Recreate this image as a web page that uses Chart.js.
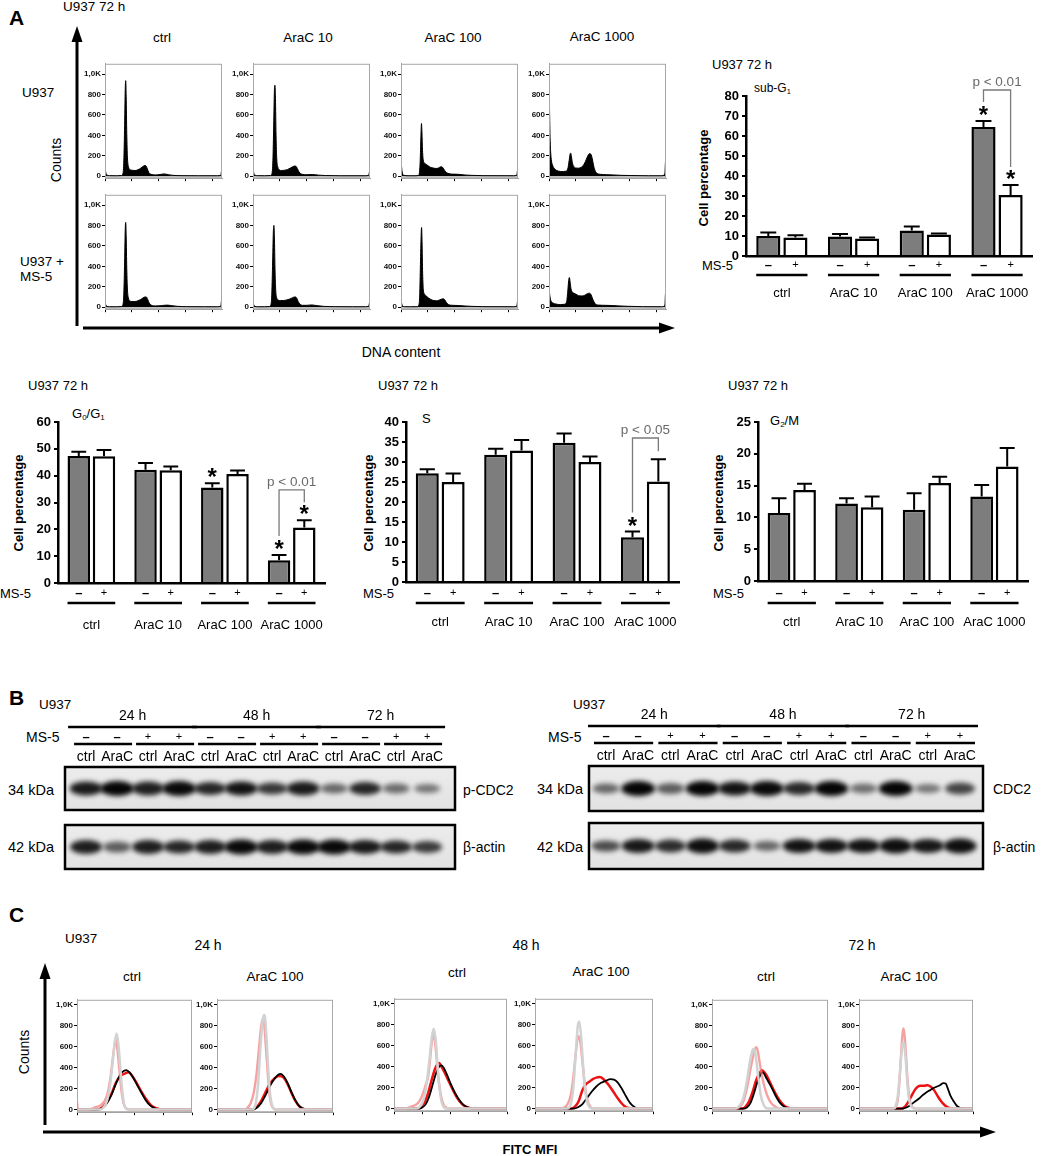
<!DOCTYPE html>
<html><head><meta charset="utf-8">
<script src="https://cdn.jsdelivr.net/npm/chart.js@4.4.1/dist/chart.umd.min.js"></script>
<style>
html,body{margin:0;padding:0;background:#fff;}
#fig{position:relative;width:1052px;height:1156px;overflow:hidden;background:#fff;font-family:"Liberation Sans",Arial,Helvetica,sans-serif;color:#000;}
#fig canvas{position:absolute;}
#fig svg{position:absolute;left:0;top:0;}
.t{position:absolute;white-space:nowrap;line-height:1;}
.t sub{font-size:0.62em;vertical-align:-0.28em;line-height:0;}
</style></head>
<body><div id="fig">
<svg width="1052" height="1156">
 <g stroke="#000" stroke-width="3"><line x1="77" y1="40" x2="77" y2="326"/><line x1="83" y1="328" x2="662" y2="328"/>
 <line x1="45" y1="977" x2="45" y2="1125"/><line x1="43" y1="1132" x2="982" y2="1132"/></g>
 <g fill="#000"><polygon points="77,26 71.5,42 82.5,42"/><polygon points="675,328 659,322.5 659,333.5"/>
 <polygon points="45,963 39.5,979 50.5,979"/><polygon points="996,1132 980,1126.5 980,1137.5"/></g>
</svg>
</div>
<script>
// ---------------- DATA ----------------
const groups = ['ctrl', 'AraC 10', 'AraC 100', 'AraC 1000'];
// sub-G1
const subG1NoMS5 = [10, 9.7, 12.7, 64.5];
const subG1NoMS5Err = [1.7, 1.3, 2, 3];
const subG1WithMS5 = [9.2, 8.7, 10.8, 30.5];
const subG1WithMS5Err = [1.2, 0.5, 0.5, 5];
const subG1SigNo = [0, 0, 0, 1];
const subG1SigWith = [0, 0, 0, 1];
// G0/G1
const g0g1NoMS5 = [47.3, 42.2, 35.6, 8.5];
const g0g1NoMS5Err = [1.6, 2.5, 1.6, 1.9];
const g0g1WithMS5 = [47.2, 42, 40.6, 20.7];
const g0g1WithMS5Err = [2.4, 1.4, 1.3, 2.7];
const g0g1SigNo = [0, 0, 1, 1];
const g0g1SigWith = [0, 0, 0, 1];
// S
const sNoMS5 = [27.2, 31.8, 34.8, 11.2];
const sNoMS5Err = [1, 1.5, 2.3, 1.4];
const sWithMS5 = [25, 32.9, 30, 25.1];
const sWithMS5Err = [2.1, 2.6, 1.4, 5.6];
const sSigNo = [0, 0, 0, 1];
const sSigWith = [0, 0, 0, 0];
// G2/M
const g2mNoMS5 = [10.7, 12.2, 11.2, 13.3];
const g2mNoMS5Err = [2.3, 0.8, 2.6, 1.8];
const g2mWithMS5 = [14.3, 11.6, 15.4, 18];
const g2mWithMS5Err = [1, 1.7, 1, 2.9];
const g2mSig = [0, 0, 0, 0];

// tick labels
const histYTicks = [0, 200, 400, 600, 800, 1000];
const dnaXTicks = [0, 230, 460, 690, 920];
const fitcXTicks = [0, 250, 500, 750, 1000];

// DNA content histograms [channel, count]
const histU937Ctrl = [[0,95],[6,40],[15,12],[40,5],[100,4],[140,6],[152,20],[160,120],[167,450],[173,850],[177,935],[181,780],[186,420],[192,180],[200,95],[212,65],[230,58],[255,55],[280,62],[305,78],[325,95],[340,105],[352,98],[362,70],[375,35],[392,18],[430,12],[470,16],[505,22],[540,15],[580,8],[650,5],[800,4],[960,4],[990,8],[997,55],[1000,55]];
const histU937AraC10 = [[0,90],[6,35],[15,10],[40,5],[100,4],[150,6],[162,25],[170,150],[177,500],[183,840],[188,890],[192,760],[197,400],[203,170],[212,90],[225,62],[245,55],[270,58],[295,65],[320,80],[340,92],[360,100],[372,90],[385,60],[400,30],[420,18],[460,14],[510,16],[560,10],[620,6],[750,4],[960,4],[990,10],[997,50],[1000,50]];
const histU937AraC100 = [[0,190],[5,90],[12,30],[25,8],[60,4],[120,4],[150,8],[158,40],[164,150],[170,380],[175,516],[179,430],[184,250],[190,160],[200,130],[215,115],[235,100],[255,85],[275,80],[300,75],[320,80],[340,92],[352,90],[365,70],[380,45],[400,28],[440,20],[490,18],[540,12],[600,8],[700,5],[960,4],[990,10],[997,60],[1000,60]];
const histU937AraC1000 = [[0,1080],[4,700],[10,350],[18,180],[30,110],[50,70],[80,50],[110,45],[140,48],[160,70],[172,150],[180,215],[186,225],[192,190],[200,130],[212,95],[230,80],[250,78],[270,85],[290,100],[310,140],[328,190],[345,220],[358,215],[370,170],[382,100],[395,50],[410,28],[440,18],[490,15],[550,12],[620,8],[700,6],[850,4],[960,4],[990,20],[997,160],[1000,160]];
const histMS5Ctrl = [[0,45],[6,25],[15,8],[40,4],[100,4],[140,6],[152,20],[160,110],[167,400],[173,760],[177,830],[181,700],[186,380],[192,170],[200,90],[212,62],[230,55],[255,55],[280,62],[305,75],[325,90],[342,100],[355,98],[365,75],[378,40],[395,20],[430,12],[480,15],[530,20],[570,15],[620,8],[700,5],[850,4],[960,4],[990,10],[997,70],[1000,70]];
const histMS5AraC10 = [[0,45],[6,25],[15,8],[40,4],[100,4],[140,6],[152,20],[160,110],[167,400],[174,740],[179,800],[183,690],[188,380],[194,170],[202,95],[215,70],[235,65],[260,65],[285,70],[310,78],[330,88],[348,98],[362,100],[374,88],[386,55],[400,30],[420,18],[460,18],[500,22],[540,16],[600,8],[700,5],[850,4],[960,4],[990,10],[997,50],[1000,50]];
const histMS5AraC100 = [[0,75],[5,40],[12,15],[30,5],[80,4],[140,5],[152,20],[160,120],[166,420],[172,700],[176,780],[180,640],[185,330],[191,170],[200,130],[215,110],[235,90],[255,75],[280,65],[305,62],[325,68],[345,78],[362,82],[375,70],[390,42],[405,25],[440,18],[490,16],[540,12],[600,8],[700,5],[960,4],[990,10],[997,60],[1000,60]];
const histMS5AraC1000 = [[0,230],[4,150],[10,90],[20,55],[35,40],[60,30],[100,25],[130,28],[150,50],[160,150],[168,260],[174,290],[180,250],[188,180],[198,150],[215,135],[240,120],[265,110],[290,110],[310,120],[328,132],[345,137],[358,125],[370,90],[385,50],[400,28],[430,20],[480,18],[540,16],[600,12],[680,8],[800,5],[960,4],[990,15],[997,150],[1000,150]];

// FITC MFI overlays [channel, count]
const fitc24CtrlGray = [[0,0],[200,0],[230,20],[260,80],[290,250],[310,450],[330,650],[345,725],[360,620],[375,420],[390,220],[405,80],[420,20],[440,0],[1000,0]];
const fitc24CtrlPink = [[0,70],[5,20],[15,0],[100,0],[130,10],[170,25],[210,45],[240,80],[265,150],[285,260],[300,380],[315,520],[330,640],[338,665],[348,610],[360,480],[375,300],[390,150],[405,60],[420,20],[440,5],[460,0],[1000,0]];
const fitc24CtrlBlack = [[0,0],[180,0],[220,15],[260,60],[300,140],[340,250],[380,340],[410,370],[430,375],[450,360],[480,320],[520,240],[560,160],[600,85],[640,35],[680,10],[720,0],[1000,0]];
const fitc24CtrlRed = [[0,0],[180,0],[220,20],[260,70],[300,150],[340,260],[380,320],[420,345],[450,355],[480,320],[520,250],[560,170],[600,100],[640,45],[680,15],[720,3],[760,0],[1000,0]];
const fitc24AraGray = [[0,0],[300,0],[330,40],[355,250],[375,600],[395,860],[410,900],[425,720],[440,420],[455,180],[470,60],[490,10],[510,0],[1000,0]];
const fitc24AraPink = [[0,0],[240,0],[265,20],[290,60],[315,150],[340,330],[360,560],[380,780],[395,865],[408,800],[420,620],[435,380],[450,170],[465,60],[480,20],[500,0],[1000,0]];
const fitc24AraBlack = [[0,0],[300,0],[340,15],[380,60],[420,140],[460,230],[500,300],[530,335],[550,340],[580,310],[610,250],[640,170],[670,100],[700,45],[730,15],[760,3],[790,0],[1000,0]];
const fitc24AraRed = [[0,0],[300,0],[340,20],[380,80],[420,170],[460,250],[500,300],[530,320],[560,315],[590,280],[620,215],[650,140],[680,75],[710,30],[740,8],[770,0],[1000,0]];
const fitc48CtrlGray = [[0,0],[200,0],[230,20],[260,80],[290,250],[315,480],[335,680],[352,760],[368,660],[385,420],[400,220],[420,70],[440,15],[460,0],[1000,0]];
const fitc48CtrlPink = [[0,15],[10,0],[100,0],[130,10],[170,25],[210,50],[240,100],[265,170],[285,240],[300,290],[315,420],[330,590],[345,700],[355,690],[370,560],[385,380],[400,230],[420,100],[440,35],[460,10],[480,0],[1000,0]];
const fitc48CtrlBlack = [[0,0],[220,0],[250,10],[280,40],[310,110],[340,220],[370,330],[400,400],[420,412],[440,390],[470,320],[500,240],[540,150],[580,80],[620,30],[660,8],[700,0],[1000,0]];
const fitc48CtrlRed = [[0,0],[210,0],[240,15],[270,60],[300,140],[330,260],[360,370],[385,425],[400,435],[420,400],[450,340],[480,270],[520,180],[560,100],[600,45],[640,15],[680,3],[710,0],[1000,0]];
const fitc48AraGray = [[0,0],[270,0],[300,30],[325,200],[345,520],[362,780],[375,830],[390,700],[405,450],[420,220],[440,70],[460,15],[480,0],[1000,0]];
const fitc48AraPink = [[0,0],[220,0],[250,10],[280,50],[305,140],[325,300],[345,520],[360,660],[370,690],[385,630],[400,470],[415,300],[430,160],[450,60],[470,15],[490,0],[1000,0]];
const fitc48AraBlack = [[0,0],[330,0],[360,10],[400,40],[440,100],[480,160],[520,210],[560,245],[600,265],[640,280],[670,275],[700,250],[730,200],[760,140],[790,80],[820,35],[850,10],[880,0],[1000,0]];
const fitc48AraRed = [[0,0],[310,0],[340,20],[370,70],[400,170],[430,230],[460,255],[490,280],[520,295],[550,300],[580,280],[610,245],[640,200],[670,150],[700,100],[730,55],[760,22],[790,5],[820,0],[1000,0]];
const fitc72CtrlGray = [[0,0],[200,0],[230,20],[260,70],[285,170],[310,330],[330,470],[350,560],[362,575],[375,520],[390,390],[405,250],[420,130],[440,50],[460,12],[480,0],[1000,0]];
const fitc72CtrlPink = [[0,0],[210,0],[240,15],[270,70],[300,190],[325,340],[350,480],[370,570],[382,590],[395,550],[410,450],[430,320],[450,220],[475,130],[500,70],[530,30],[560,10],[600,0],[1000,0]];
const fitc72CtrlBlack = [[0,0],[270,0],[300,10],[330,50],[360,140],[390,250],[415,320],[430,348],[445,340],[470,290],[500,230],[530,165],[560,100],[590,50],[620,20],[650,5],[680,0],[1000,0]];
const fitc72CtrlRed = [[0,0],[260,0],[290,20],[320,70],[350,160],[380,270],[410,340],[430,368],[450,350],[475,310],[505,240],[535,170],[565,110],[595,60],[625,25],[655,8],[690,0],[1000,0]];
const fitc72AraGray = [[0,0],[300,0],[320,20],[340,120],[358,330],[372,520],[385,640],[398,600],[410,470],[422,280],[435,120],[450,40],[470,5],[490,0],[1000,0]];
const fitc72AraPink = [[0,0],[300,0],[320,10],[340,80],[355,260],[368,500],[380,700],[390,770],[400,700],[412,520],[425,290],[440,120],[455,40],[475,8],[500,0],[1000,0]];
const fitc72AraBlack = [[0,0],[380,0],[410,8],[440,25],[470,50],[500,75],[530,100],[560,130],[590,155],[620,175],[650,195],[680,210],[710,225],[740,245],[760,240],[780,190],[800,130],[830,70],[860,25],[890,5],[920,0],[1000,0]];
const fitc72AraRed = [[0,0],[370,0],[400,15],[430,60],[460,120],[490,180],[515,210],[540,220],[570,220],[600,225],[630,210],[660,175],[690,120],[720,70],[750,35],[780,12],[810,3],[840,0],[1000,0]];

// Western blot lanes and band intensities (0..1)
const blotLanes = ['ctrl','AraC','ctrl','AraC','ctrl','AraC','ctrl','AraC','ctrl','AraC','ctrl','AraC'];
const blotMS5 = ['–','–','+','+','–','–','+','+','–','–','+','+'];
const blotTimes = ['24 h','48 h','72 h'];
const pCDC2Bands = [0.88, 1.0, 0.85, 0.97, 0.82, 0.92, 0.72, 0.88, 0.45, 0.82, 0.42, 0.35];
const actinBandsL = [0.85, 0.5, 0.85, 0.82, 0.85, 0.97, 0.85, 0.98, 0.97, 0.88, 0.82, 0.7];
const CDC2Bands = [0.45, 1.0, 0.5, 1.0, 0.92, 0.97, 0.8, 1.0, 0.4, 1.0, 0.35, 0.65];
const actinBandsR = [0.6, 0.9, 0.78, 0.95, 0.8, 0.45, 0.92, 0.92, 0.92, 0.95, 0.9, 0.95];

// ---------------- HELPERS ----------------
const FF = '"Liberation Sans", Arial, Helvetica, sans-serif';
Chart.defaults.font.family = FF;
Chart.defaults.color = '#000';
const fig = document.getElementById('fig');

function mkCanvas(x, y, w, h) {
  const c = document.createElement('canvas');
  c.width = w; c.height = h;
  c.style.left = x + 'px'; c.style.top = y + 'px';
  c.style.width = w + 'px'; c.style.height = h + 'px';
  fig.appendChild(c);
  return c;
}
function T(html, x, y, o = {}) {
  const d = document.createElement('div');
  d.className = 't'; d.innerHTML = html;
  const s = d.style;
  s.left = x + 'px'; s.top = y + 'px';
  s.fontSize = (o.s || 13) + 'px';
  if (o.b) s.fontWeight = 'bold';
  if (o.c) s.color = o.c;
  let tr = o.a === 'c' ? 'translate(-50%,-50%)' : 'translateY(-50%)';
  if (o.rot) tr = 'translate(-50%,-50%) rotate(-90deg)';
  s.transform = tr;
  fig.appendChild(d);
}
const base = { responsive: false, animation: false, events: [] };
const noLegend = { legend: { display: false }, tooltip: { enabled: false } };

const frame = {
  id: 'frame',
  afterDraw(ch) {
    const a = ch.chartArea, ctx = ch.ctx;
    ctx.save(); ctx.strokeStyle = '#a8a8a8'; ctx.lineWidth = 1;
    ctx.strokeRect(a.left + 0.5, a.top + 0.5, a.right - a.left - 1, a.bottom - a.top - 1);
    ctx.restore();
  }
};

function lineOpts(yMin, yMax, xTicks, L, Tp, R, B) {
  return Object.assign({}, base, {
    layout: { autoPadding: false, padding: { left: 0, top: Tp, right: R, bottom: 0 } },
    plugins: noLegend,
    scales: {
      x: { type: 'linear', min: 0, max: 1000,
        afterBuildTicks: s => { s.ticks = xTicks.map(v => ({ value: v })); },
        ticks: { display: false },
        grid: { drawOnChartArea: false, drawTicks: true, tickLength: 3, color: '#000', lineWidth: 1 },
        border: { display: true, color: '#a0a0a0', width: 1 },
        afterFit: s => { s.height = B; } },
      y: { type: 'linear', min: yMin, max: yMax,
        afterBuildTicks: s => { s.ticks = histYTicks.map(v => ({ value: v })); },
        ticks: { font: { size: 8, weight: 'bold' }, color: '#111', padding: 1,
          callback: v => v === 1000 ? '1,0K' : String(v) },
        grid: { drawOnChartArea: false, drawTicks: true, tickLength: 3, color: '#000', lineWidth: 1 },
        border: { display: true, color: '#a0a0a0', width: 1 },
        afterFit: s => { s.width = L; } }
    }
  });
}
const pts = d => d.map(p => ({ x: p[0], y: p[1] }));

function histChart(x0, y0, w, h, data) {
  const L = 26, Tp = 4, R = 4, B = 5;
  const c = mkCanvas(x0 - L, y0 - Tp, w + L + R, h + Tp + B);
  new Chart(c, {
    type: 'line',
    data: { datasets: [{ data: pts(data), borderColor: '#000', backgroundColor: '#000', fill: 'origin',
      borderWidth: 1, pointRadius: 0, cubicInterpolationMode: 'monotone' }] },
    options: lineOpts(-20, 1100, dnaXTicks, L, Tp, R, B),
    plugins: [frame]
  });
}
function fitcChart(r, gray, pink, black, red) {
  const [x0, y0, w, h] = r;
  const L = 26, Tp = 4, R = 4, B = 5;
  const c = mkCanvas(x0 - L, y0 - Tp, w + L + R, h + Tp + B);
  const ds = (d, col, bw) => ({ data: pts(d), borderColor: col, borderWidth: bw, pointRadius: 0, fill: false, cubicInterpolationMode: 'monotone' });
  new Chart(c, {
    type: 'line',
    data: { datasets: [ds(gray, '#d2d2d2', 2.5), ds(pink, 'rgba(242,125,125,0.72)', 2.4), ds(black, '#000', 1.8), ds(red, '#ee1111', 2.5)] },
    options: lineOpts(-25, 1045, fitcXTicks, L, Tp, R, B),
    plugins: [frame]
  });
}

const barAnno = {
  id: 'barAnno',
  afterDatasetsDraw(chart, args, o) {
    const ctx = chart.ctx, ys = chart.scales.y;
    const axisY = ys.getPixelForValue(0);
    const metas = [chart.getDatasetMeta(0), chart.getDatasetMeta(1)];
    const dss = chart.data.datasets;
    ctx.save();
    ctx.fillStyle = '#000'; ctx.strokeStyle = '#000'; ctx.textAlign = 'center';
    const tops = [[], []];
    metas.forEach((m, d) => {
      const ds = dss[d];
      m.data.forEach((el, i) => {
        const top = ys.getPixelForValue(ds.data[i] + ds.err[i]);
        tops[d][i] = top;
        ctx.lineWidth = 2;
        ctx.beginPath();
        ctx.moveTo(el.x, el.y); ctx.lineTo(el.x, top);
        ctx.moveTo(el.x - el.width * 0.33, top); ctx.lineTo(el.x + el.width * 0.33, top);
        ctx.stroke();
        if (ds.sig[i]) {
          ctx.font = 'bold 24px ' + FF; ctx.textBaseline = 'alphabetic';
          ctx.fillText('*', el.x, top + 2);
        }
        ctx.textBaseline = 'middle';
        ctx.font = (d === 0 ? 'bold 13px ' : '11px ') + FF;
        ctx.fillText(d === 0 ? '–' : '+', el.x, axisY + o.signDy);
      });
    });
    metas[0].data.forEach((el, i) => {
      const el2 = metas[1].data[i];
      ctx.lineWidth = 2.5;
      ctx.beginPath();
      ctx.moveTo(el.x - el.width / 2, axisY + o.lineDy);
      ctx.lineTo(el2.x + el2.width / 2, axisY + o.lineDy);
      ctx.stroke();
    });
    if (o.bracket) {
      const g = o.bracket.group;
      const a = metas[0].data[g], b = metas[1].data[g];
      const ya = tops[0][g] - (dss[0].sig[g] ? 19 : 8);
      const yb = tops[1][g] - (dss[1].sig[g] ? 18 : 8);
      const yt = ys.getPixelForValue(o.bracket.top);
      ctx.strokeStyle = '#7a7a7a'; ctx.lineWidth = 1.3;
      ctx.beginPath();
      ctx.moveTo(a.x, ya); ctx.lineTo(a.x, yt); ctx.lineTo(b.x, yt); ctx.lineTo(b.x, yb);
      ctx.stroke();
      ctx.fillStyle = '#6a6a6a'; ctx.font = '13.5px ' + FF; ctx.textBaseline = 'alphabetic';
      ctx.fillText(o.bracket.label, (a.x + b.x) / 2, yt - 4);
    }
    ctx.restore();
  }
};

function barChart(o) {
  const c = mkCanvas(o.cx, o.cy, o.cw, o.ch);
  const L = o.ax0 - o.cx, Tp = o.ay0 - o.cy, R = o.cx + o.cw - o.ax1, B = o.cy + o.ch - o.ay1;
  const common = { borderColor: '#000', borderWidth: 2.5, categoryPercentage: 0.756, barPercentage: 0.89 };
  new Chart(c, {
    type: 'bar',
    data: { labels: groups, datasets: [
      Object.assign({ data: o.g, err: o.ge, sig: o.gs, backgroundColor: '#7d7d7d' }, common),
      Object.assign({ data: o.w, err: o.we, sig: o.ws, backgroundColor: '#ffffff' }, common)
    ] },
    options: Object.assign({}, base, {
      layout: { autoPadding: false, padding: { left: 0, top: Tp, right: R, bottom: 0 } },
      plugins: Object.assign({}, noLegend, { barAnno: { signDy: o.signDy, lineDy: o.lineDy, bracket: o.bracket } }),
      scales: {
        x: { grid: { display: false }, border: { display: true, color: '#000', width: 2.5 },
          ticks: { padding: o.lp, font: { size: 13 }, maxRotation: 0, autoSkip: false },
          afterFit: s => { s.height = B; } },
        y: { min: 0, max: o.max, ticks: { stepSize: o.step, padding: 3, font: { size: 13, weight: 'bold' } },
          grid: { drawOnChartArea: false, drawTicks: true, tickLength: 4, color: '#000', lineWidth: 2 },
          border: { display: true, color: '#000', width: 2.5 },
          afterFit: s => { s.width = L; } }
      }
    }),
    plugins: [barAnno]
  });
}

function bandImg(v) {
  const w = Math.round(22 + 12 * v), h = Math.round(6 + 9 * v);
  const c = document.createElement('canvas');
  c.width = w + 16; c.height = h + 16;
  const g = c.getContext('2d');
  g.filter = 'blur(2.5px)';
  g.fillStyle = 'rgba(0,0,0,' + (0.22 + 0.76 * v).toFixed(2) + ')';
  g.beginPath(); g.ellipse(c.width / 2, c.height / 2, w / 2, h / 2, 0, 0, Math.PI * 2); g.fill();
  return c;
}
const blotBox = {
  id: 'blotBox',
  beforeDatasetsDraw(ch) {
    const a = ch.chartArea, ctx = ch.ctx;
    ctx.save();
    const g = ctx.createLinearGradient(0, a.top, 0, a.bottom);
    g.addColorStop(0, '#ececec'); g.addColorStop(1, '#e2e2e2');
    ctx.fillStyle = g; ctx.fillRect(a.left, a.top, a.right - a.left, a.bottom - a.top);
    ctx.restore();
  },
  afterDraw(ch) {
    const a = ch.chartArea, ctx = ch.ctx;
    ctx.save(); ctx.strokeStyle = '#000'; ctx.lineWidth = 2.5;
    ctx.strokeRect(a.left, a.top, a.right - a.left, a.bottom - a.top);
    ctx.restore();
  }
};
const blotHeader = {
  id: 'blotHeader',
  afterDraw(ch, args, o) {
    if (!o || !o.on) return;
    const ctx = ch.ctx, xs = ch.scales.x, top = ch.chartArea.top;
    const px = i => xs.getPixelForValue(i + 1);
    const line = (x1, y, x2) => { ctx.beginPath(); ctx.moveTo(x1, y); ctx.lineTo(x2, y); ctx.stroke(); };
    ctx.save();
    ctx.fillStyle = '#000'; ctx.strokeStyle = '#000'; ctx.textAlign = 'center'; ctx.textBaseline = 'middle';
    ctx.lineWidth = 2.5;
    blotTimes.forEach((t, k) => {
      const a = px(k * 4), b = px(k * 4 + 3);
      ctx.font = '14px ' + FF; ctx.fillText(t, (a + b) / 2, top - 51);
      line(a - 18, top - 40, b + 18);
    });
    blotMS5.forEach((s, i) => {
      ctx.font = (s === '+' ? '11px ' : 'bold 13px ') + FF;
      ctx.fillText(s, px(i), top - 30);
    });
    for (let k = 0; k < 6; k++) line(px(2 * k) - 12, top - 23, px(2 * k + 1) + 15);
    ctx.font = '14px ' + FF;
    blotLanes.forEach((l, i) => ctx.fillText(l, px(i), top - 10));
    ctx.restore();
  }
};
function blotChart(cx, cy, cw, ch, area, xmin, xmax, bands, header) {
  const c = mkCanvas(cx, cy, cw, ch);
  const imgs = bands.map(bandImg);
  new Chart(c, {
    type: 'scatter',
    data: { datasets: [{ data: bands.map((v, i) => ({ x: i + 1, y: 0 })), pointStyle: ctx => imgs[ctx.dataIndex], pointRadius: 6 }] },
    options: Object.assign({}, base, {
      layout: { autoPadding: false, padding: { left: area[0] - cx, top: area[1] - cy, right: cx + cw - area[2], bottom: cy + ch - area[3] } },
      plugins: Object.assign({}, noLegend, { blotHeader: { on: header } }),
      scales: { x: { display: false, min: xmin, max: xmax }, y: { display: false, min: -1, max: 1 } }
    }),
    plugins: [blotBox, blotHeader]
  });
}

// ---------------- PANEL A ----------------
T('A', 9, 17, { s: 21, b: 1 });
T('U937 72 h', 63, 7, { s: 13.5 });
T('ctrl', 162, 38, { a: 'c', s: 13.5 });
T('AraC 10', 308, 38, { a: 'c', s: 13.5 });
T('AraC 100', 453, 38, { a: 'c', s: 13.5 });
T('AraC 1000', 602, 37, { a: 'c', s: 13.5 });
T('U937', 22, 93, { s: 13.5 });
T('Counts', 56, 160, { rot: 1, s: 14 });
T('U937 +', 20, 262, { s: 13.5 });
T('MS-5', 20, 277, { s: 13.5 });
T('DNA content', 401, 352, { a: 'c', s: 14 });

const colX = [105, 253, 401, 549], rowY = [62, 193];
histChart(colX[0], rowY[0], 117, 117, histU937Ctrl);
histChart(colX[1], rowY[0], 117, 117, histU937AraC10);
histChart(colX[2], rowY[0], 117, 117, histU937AraC100);
histChart(colX[3], rowY[0], 117, 117, histU937AraC1000);
histChart(colX[0], rowY[1], 117, 117, histMS5Ctrl);
histChart(colX[1], rowY[1], 117, 117, histMS5AraC10);
histChart(colX[2], rowY[1], 117, 117, histMS5AraC100);
histChart(colX[3], rowY[1], 117, 117, histMS5AraC1000);

// sub-G1
T('U937 72 h', 712, 64, { s: 13 });
T('sub-G<sub>1</sub>', 754, 88, { s: 12 });
T('Cell percentage', 703, 178, { rot: 1, s: 13, b: 1 });
T('MS-5', 702, 265, { s: 13 });
barChart({ cx: 670, cy: 62, cw: 382, ch: 240, ax0: 746, ay0: 96, ax1: 1037, ay1: 256, lp: 22, signDy: 9, lineDy: 19,
  max: 80, step: 10, g: subG1NoMS5, ge: subG1NoMS5Err, gs: subG1SigNo, w: subG1WithMS5, we: subG1WithMS5Err, ws: subG1SigWith,
  bracket: { group: 3, top: 83, label: 'p < 0.01' } });

// G0/G1
T('U937 72 h', 28, 385, { s: 13 });
T('G<sub>0</sub>/G<sub>1</sub>', 72, 413, { s: 13 });
T('Cell percentage', 18, 503, { rot: 1, s: 13, b: 1 });
T('MS-5', 0, 593, { s: 13 });
barChart({ cx: 0, cy: 410, cw: 350, ch: 230, ax0: 58, ay0: 422, ax1: 348, ay1: 583, lp: 27, signDy: 10, lineDy: 20,
  max: 60, step: 10, g: g0g1NoMS5, ge: g0g1NoMS5Err, gs: g0g1SigNo, w: g0g1WithMS5, we: g0g1WithMS5Err, ws: g0g1SigWith,
  bracket: { group: 3, top: 34.7, label: 'p < 0.01' } });

// S
T('U937 72 h', 378, 385, { s: 13 });
T('S', 422, 418, { s: 13 });
T('Cell percentage', 368, 503, { rot: 1, s: 13, b: 1 });
T('MS-5', 363, 593, { s: 13 });
barChart({ cx: 350, cy: 410, cw: 352, ch: 230, ax0: 406, ay0: 422, ax1: 698, ay1: 582, lp: 25, signDy: 11, lineDy: 21,
  max: 40, step: 5, g: sNoMS5, ge: sNoMS5Err, gs: sSigNo, w: sWithMS5, we: sWithMS5Err, ws: sSigWith,
  bracket: { group: 3, top: 36, label: 'p < 0.05' } });

// G2/M
T('U937 72 h', 728, 385, { s: 13 });
T('G<sub>2</sub>/M', 770, 420, { s: 13 });
T('Cell percentage', 718, 503, { rot: 1, s: 13, b: 1 });
T('MS-5', 713, 593, { s: 13 });
barChart({ cx: 702, cy: 410, cw: 350, ch: 230, ax0: 758, ay0: 422, ax1: 1048, ay1: 581, lp: 26, signDy: 12, lineDy: 22,
  max: 25, step: 5, g: g2mNoMS5, ge: g2mNoMS5Err, gs: g2mSig, w: g2mWithMS5, we: g2mWithMS5Err, ws: g2mSig,
  bracket: null });

// ---------------- PANEL B ----------------
T('B', 9, 697, { s: 21, b: 1 });
T('U937', 39, 705, { s: 13.5 });
T('MS-5', 26, 737, { s: 14 });
T('34 kDa', 8, 790, { s: 14.5 });
T('42 kDa', 8, 847, { s: 14.5 });
T('p-CDC2', 463, 790, { s: 14 });
T('β-actin', 463, 847, { s: 14 });
blotChart(0, 700, 530, 112, [65, 767, 455, 810], 0.32, 12.9, pCDC2Bands, true);
blotChart(0, 822, 530, 50, [65, 825, 455, 869], 0.32, 12.9, actinBandsL, false);

T('U937', 573, 705, { s: 13.5 });
T('MS-5', 548, 737, { s: 14 });
T('34 kDa', 537, 789, { s: 14.5 });
T('42 kDa', 537, 847, { s: 14.5 });
T('CDC2', 993, 789, { s: 14 });
T('β-actin', 993, 847, { s: 14 });
blotChart(530, 700, 522, 113, [589, 766, 983, 811], 0.472, 12.715, CDC2Bands, true);
blotChart(530, 820, 522, 52, [589, 823, 983, 869], 0.472, 12.715, actinBandsR, false);

// ---------------- PANEL C ----------------
T('C', 9, 914, { s: 21, b: 1 });
T('U937', 65, 939, { s: 13.5 });
T('24 h', 208, 945, { a: 'c', s: 14 });
T('48 h', 526, 945, { a: 'c', s: 14 });
T('72 h', 862, 945, { a: 'c', s: 14 });
T('ctrl', 132, 977, { a: 'c', s: 13.5 });
T('AraC 100', 275, 977, { a: 'c', s: 13.5 });
T('ctrl', 457, 973, { a: 'c', s: 13.5 });
T('AraC 100', 601, 972, { a: 'c', s: 13.5 });
T('ctrl', 766, 977, { a: 'c', s: 13.5 });
T('AraC 100', 909, 977, { a: 'c', s: 13.5 });
T('Counts', 24, 1052, { rot: 1, s: 14 });
T('FITC MFI', 530, 1149, { a: 'c', s: 13, b: 1 });

fitcChart([77, 998, 115, 115], fitc24CtrlGray, fitc24CtrlPink, fitc24CtrlBlack, fitc24CtrlRed);
fitcChart([217, 998, 116, 115], fitc24AraGray, fitc24AraPink, fitc24AraBlack, fitc24AraRed);
fitcChart([394, 997, 113, 115], fitc48CtrlGray, fitc48CtrlPink, fitc48CtrlBlack, fitc48CtrlRed);
fitcChart([535, 997, 118, 115], fitc48AraGray, fitc48AraPink, fitc48AraBlack, fitc48AraRed);
fitcChart([712, 998, 116, 114], fitc72CtrlGray, fitc72CtrlPink, fitc72CtrlBlack, fitc72CtrlRed);
fitcChart([859, 998, 114, 114], fitc72AraGray, fitc72AraPink, fitc72AraBlack, fitc72AraRed);
</script>
</body></html>
